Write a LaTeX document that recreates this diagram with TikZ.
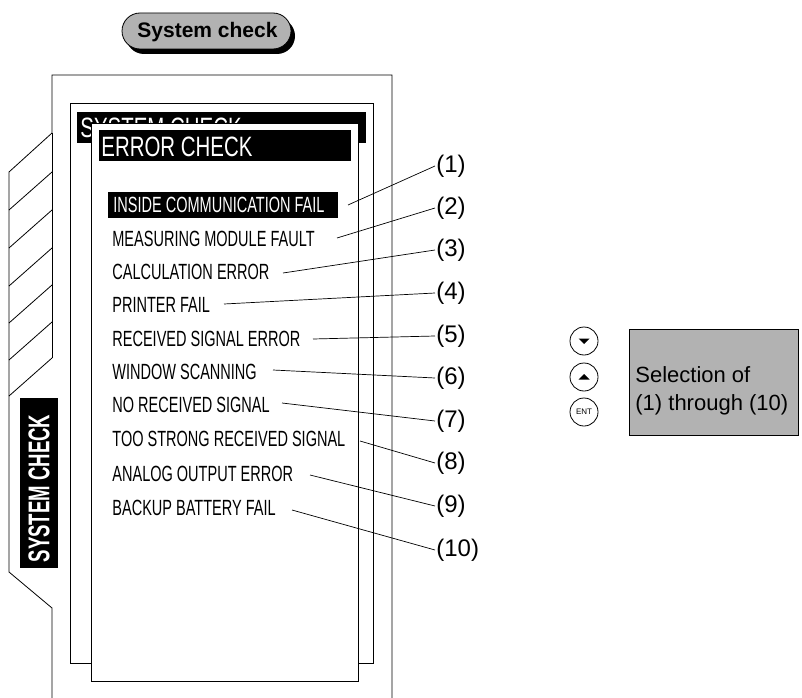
\documentclass[tikz,border=0pt]{standalone}
\usepackage{fontspec}
\setmainfont{Liberation Sans}
\newfontfamily\condfont{Liberation Sans}[FakeStretch=0.66]
\newfontfamily\headfont{Liberation Sans}[FakeStretch=0.73]
\newfontfamily\tabfont{Liberation Sans}[FakeStretch=0.62]
\definecolor{btngray}{gray}{0.70}
\begin{document}
\begin{tikzpicture}[x=1bp,y=-1bp,line width=0.8bp,
  frame/.style={draw=black,fill=white},
  item/.style={anchor=west,inner sep=0pt,font=\condfont\fontsize{22bp}{24bp}\selectfont},
  head/.style={anchor=west,inner sep=0pt,text=white,font=\headfont\fontsize{28bp}{30bp}\selectfont},
  lbl/.style={anchor=west,inner sep=1bp,font=\fontsize{24bp}{26bp}\selectfont},
  leader/.style={draw=black,line width=0.7bp},
  keybtn/.style={circle,draw=black,line width=0.8bp,minimum size=28bp,inner sep=0pt},
  graybox/.style={draw=black,fill=btngray,line width=0.8bp}]
\useasboundingbox (0,0) rectangle (802,698);

% --- top key "System check"
\fill[black] (126,18) [rounded corners=18bp] rectangle (295,54);
\filldraw[fill=btngray,draw=black] (122,13) [rounded corners=18bp] rectangle (291,49);
\node[font=\bfseries\fontsize{21bp}{23bp}\selectfont,inner sep=0pt] (key) at (207.5,32) {System check};

% --- outer device outline
\draw (52,698) -- (52,608) -- (9,572) -- (9,172) -- (52,133) -- (52,75) -- (392,75) -- (392,698);
\draw (52,133) -- (52,358);
\foreach \y in {172,210,248,285,322,358} \draw (52,\y) -- (9,\y+38);

% vertical tab label
\fill[black] (20,398) rectangle (58,568);
\node[rotate=90,inner sep=0pt,text=white,font=\tabfont\bfseries\fontsize{30bp}{32bp}\selectfont] (tab) at (39,488.5) {SYSTEM CHECK};

% --- back screen
\draw[frame] (70,103) rectangle (373,663);
\fill[black] (77,112) rectangle (366,143);
\node[head] (sys) at (80,128) {SYSTEM CHECK};

% --- front screen
\draw[frame] (91,123) rectangle (358,681);
\fill[black] (99,130) rectangle (351,161);
\node[head] (err) at (101,147) {ERROR CHECK};

% items
\fill[black] (108,192) rectangle (338,218);
\node[item,text=white] (i1) at (113,205) {INSIDE COMMUNICATION FAIL};
\node[item] (i2) at (112,239) {MEASURING MODULE FAULT};
\node[item] (i3) at (112,271.5) {CALCULATION ERROR};
\node[item] (i4) at (112,305) {PRINTER FAIL};
\node[item] (i5) at (112,338.5) {RECEIVED SIGNAL ERROR};
\node[item] (i6) at (112,372) {WINDOW SCANNING};
\node[item] (i7) at (112,405) {NO RECEIVED SIGNAL};
\node[item] (i8) at (112,439) {TOO STRONG RECEIVED SIGNAL};
\node[item] (i9) at (112,474) {ANALOG OUTPUT ERROR};
\node[item] (i10) at (112,508) {BACKUP BATTERY FAIL};

% leader end points
\coordinate (e1) at (348,205);
\coordinate (e2) at (337,238);
\coordinate (e3) at (283,273);
\coordinate (e4) at (224,304);
\coordinate (e5) at (313,339);
\coordinate (e6) at (273,370);
\coordinate (e7) at (282,403);
\coordinate (e8) at (360,441);
\coordinate (e9) at (310,475);
\coordinate (e10) at (292,510);

% labels
\node[lbl] (l1) at (435,166) {(1)};
\node[lbl] (l2) at (435,208) {(2)};
\node[lbl] (l3) at (435,250) {(3)};
\node[lbl] (l4) at (435,293) {(4)};
\node[lbl] (l5) at (435,336) {(5)};
\node[lbl] (l6) at (435,378) {(6)};
\node[lbl] (l7) at (435,421) {(7)};
\node[lbl] (l8) at (435,463) {(8)};
\node[lbl] (l9) at (435,506) {(9)};
\node[lbl] (l10) at (435,550) {(10)};

\foreach \k in {1,...,10} \draw[leader] (l\k.west) -- (e\k);

% --- keys on the right
\node[keybtn] (down) at (584,341) {};
\node[keybtn] (up) at (584,377) {};
\node[keybtn,font=\fontsize{8bp}{9bp}\selectfont] (ent) at (584,412) {ENT};
\fill[black] (578.5,338.5) -- (589.5,338.5) -- (584,344) -- cycle;
\fill[black] (578.5,379.5) -- (589.5,379.5) -- (584,374) -- cycle;

\draw[graybox] (629,329) rectangle (798,435);
\node[anchor=west,inner sep=0pt,align=left,font=\fontsize{22bp}{28bp}\selectfont] (sel) at (635,391) {Selection of\\(1) through (10)};
\end{tikzpicture}
\end{document}
